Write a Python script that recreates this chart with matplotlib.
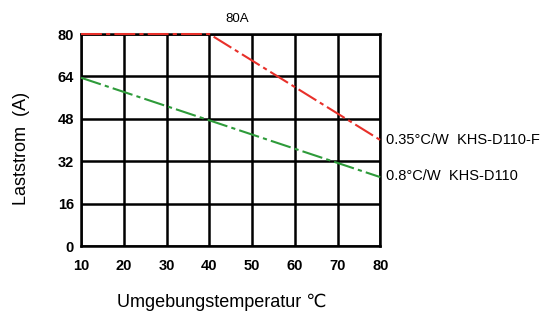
import matplotlib
matplotlib.use("Agg")
import matplotlib.pyplot as plt

# data
temps = [10, 40, 80]
red_vals = [80, 80, 40]
green_temps = [10, 80]
green_vals = [63.5, 26]
x_ticks = [10, 20, 30, 40, 50, 60, 70, 80]
y_ticks = [0, 16, 32, 48, 64, 80]

plt.rcParams["font.family"] = ["Liberation Sans", "DejaVu Sans"]

fig = plt.figure(figsize=(5.44, 3.15), dpi=100)
ax = fig.add_axes([0.149, 0.219, 0.550, 0.673])

ax.set_xlim(10, 80)
ax.set_ylim(0, 80)
ax.set_xticks(x_ticks)
ax.set_yticks(y_ticks)
ax.grid(True, color="black", lw=1.8)
ax.set_axisbelow(True)
for s in ax.spines.values():
    s.set_linewidth(1.8)
ax.tick_params(axis="x", length=0, labelsize=10.5, pad=9)
ax.tick_params(axis="y", length=0, labelsize=10.5, pad=5)
for lab in ax.get_xticklabels() + ax.get_yticklabels():
    lab.set_fontweight("bold")

ax.plot(temps, red_vals, color="#e8302a", lw=1.5, ls=(0, (10, 2, 2, 2)),
        clip_on=False, zorder=3)
ax.plot(green_temps, green_vals, color="#2e9b3a", lw=1.5, ls=(0, (10, 2, 2, 2)),
        clip_on=False, zorder=3)

ax.text(46.5, 85.5, "80A", ha="center", va="center", fontsize=9.5)
ax.text(81.3, 40, "0.35°C/W  KHS-D110-F", ha="left", va="center", fontsize=10.5)
ax.text(81.3, 26.5, "0.8°C/W  KHS-D110", ha="left", va="center", fontsize=10.5)

# axis titles placed in figure pixels like the reference
fig.text(222 / 544, 1 - 302 / 315, "Umgebungstemperatur ℃", ha="center",
         va="center", fontsize=13)
fig.text(22 / 544, 1 - 148 / 315, "Laststrom  (A)", ha="center",
         va="center", rotation=90, fontsize=13)

fig.savefig("out.png", dpi=100)
